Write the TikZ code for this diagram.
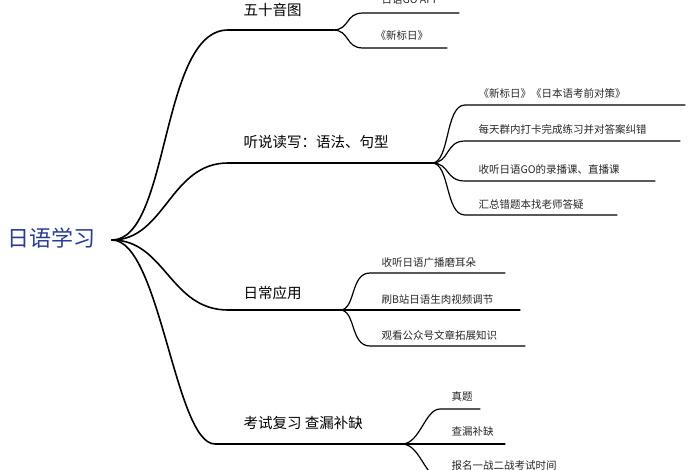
\documentclass[tikz,border=0pt]{standalone}
\usepackage{fontspec}
\setmainfont{Noto Sans CJK SC}[BoldFont={Noto Sans CJK SC Bold}]
\begin{document}
\begin{tikzpicture}[x=1pt,y=-1pt,
  br/.style={line width=1.6pt,black,line cap=round},
  sb/.style={line width=1.2pt,black,line cap=round},
  main/.style={font=\fontsize{14.5}{16}\selectfont,anchor=base west},
  sub/.style={font=\fontsize{10.5}{12}\selectfont,anchor=base west,text=black!85}]
\useasboundingbox (0,0) rectangle (700,470);
\clip (0,0) rectangle (700,470);
\node[font=\fontsize{22}{24}\selectfont,text={rgb,255:red,40;green,60;blue,150},anchor=west] (root) at (4,238) {日语学习};
\coordinate (o) at (112,240);
% branch 1
\coordinate (b1) at (228,30); \coordinate (e1) at (333,30);
\draw[br] (o) .. controls (170,240) and (160,30) .. (b1) -- (e1);
\node[main] (t1) at (240,16) {五十音图};
\coordinate (s1a) at (363,13); \coordinate (s1b) at (363,48);
\draw[sb] (e1) .. controls (350,30) and (345,13) .. (s1a) -- (459,13);
\draw[sb] (e1) .. controls (350,30) and (345,48) .. (s1b) -- (447,48);
\node[sub] (u1a) at (378,4) {日语GO APP};
\node[sub] (u1b) at (372,40) {《新标日》};
% branch 2
\coordinate (b2) at (228,163); \coordinate (e2) at (432,163);
\draw[br] (o) .. controls (165,240) and (170,163) .. (b2) -- (e2);
\node[main] (t2) at (240,148) {听说读写：语法、句型};
\foreach \yy/\rr/\tx in {105/685/{《新标日》《日本语考前对策》}, 141/680/{每天群内打卡完成练习并对答案纠错}, 181/655/{收听日语GO的录播课、直播课}, 215/617/{汇总错题本找老师答疑}}{
  \draw[sb] (e2) .. controls (450,163) and (445,\yy) .. (465,\yy) -- (\rr,\yy);
  \node[sub] at (475,\yy-7) {\tx};
}
% branch 3
\coordinate (b3) at (228,310); \coordinate (e3) at (340,310);
\draw[br] (o) .. controls (165,240) and (170,310) .. (b3) -- (e3);
\node[main] (t3) at (240,298) {日常应用};
\foreach \yy/\rr/\tx in {273/505/{收听日语广播磨耳朵}, 310/520/{刷B站日语生肉视频调节}, 346/525/{观看公众号文章拓展知识}}{
  \draw[sb] (e3) .. controls (356,310) and (350,\yy) .. (370,\yy) -- (\rr,\yy);
  \node[sub] at (378,\yy-7) {\tx};
}
% branch 4
\coordinate (b4) at (215,444); \coordinate (e4) at (402,444);
\draw[br] (o) .. controls (160,240) and (175,444) .. (b4) -- (e4);
\node[main] (t4) at (240,428) {考试复习 查漏补缺};
\draw[sb] (e4) .. controls (420,444) and (425,409) .. (440,409) -- (480,409);
\node[sub] (v1) at (448,400) {真题};
\draw[sb] (e4) -- (505,444);
\node[sub] (v2) at (448,435) {查漏补缺};
\draw[sb] (e4) .. controls (420,444) and (425,478) .. (440,478) -- (580,478);
\node[sub] (v3) at (448,469) {报名一战二战考试时间};
\end{tikzpicture}
\end{document}
